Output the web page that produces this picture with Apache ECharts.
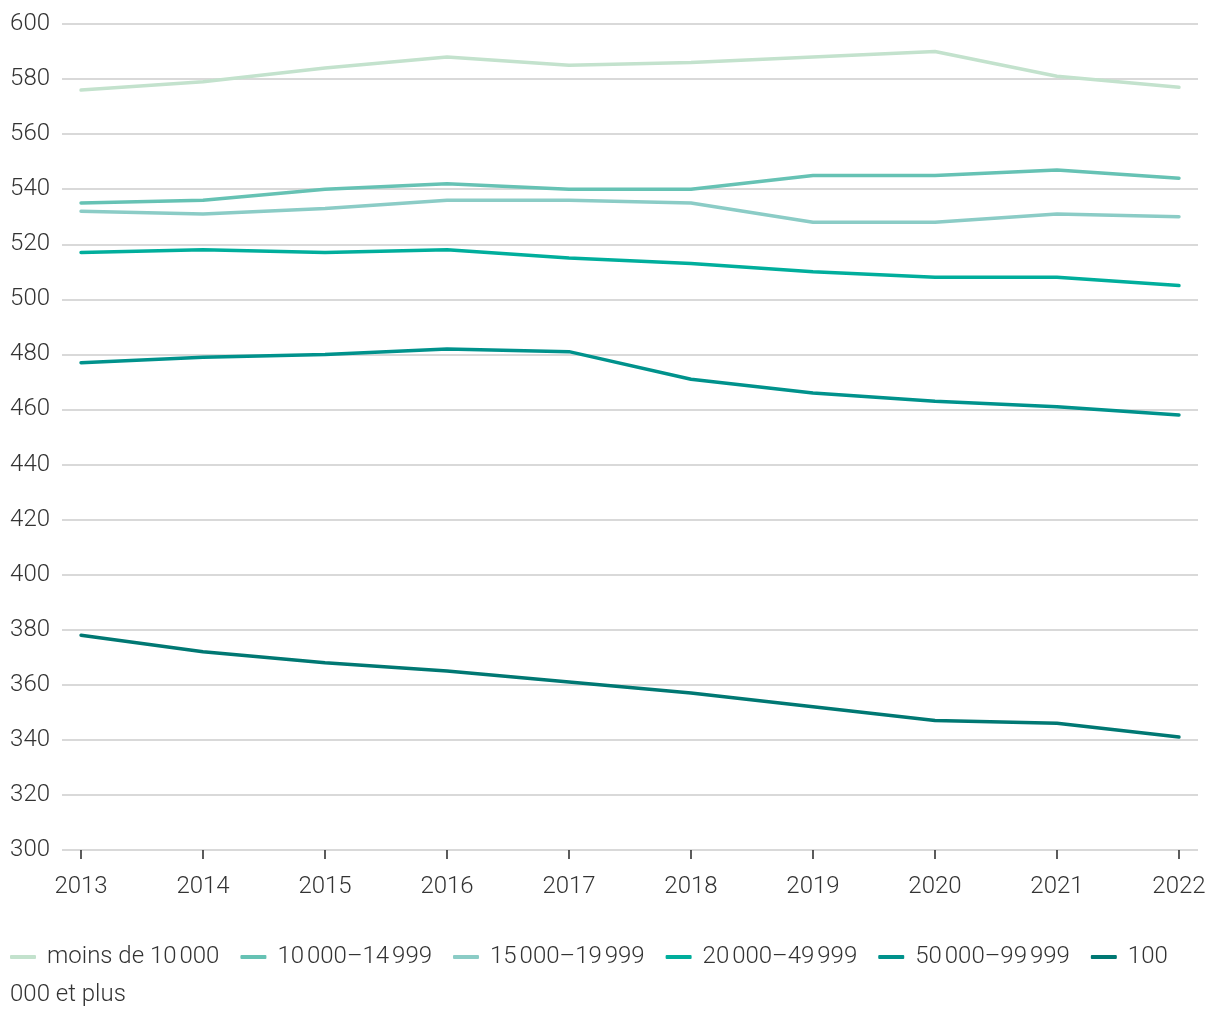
<!DOCTYPE html>
<html>
<head>
<meta charset="utf-8">
<script src="https://cdn.jsdelivr.net/npm/echarts@6/dist/echarts.min.js"></script>
<style>html,body{margin:0;padding:0;background:#fff}#c{width:1220px;height:1020px}</style>
</head>
<body>
<div id="c"></div>
<script>
const years = [2013, 2014, 2015, 2016, 2017, 2018, 2019, 2020, 2021, 2022];
const seriesNames = [
  'moins de 10\u202f000',
  '10\u202f000\u201314\u202f999',
  '15\u202f000\u201319\u202f999',
  '20\u202f000\u201349\u202f999',
  '50\u202f000\u201399\u202f999',
  '100\u202f000 et plus'
];
const moins10000 = [576, 579, 584, 588, 585, 586, 588, 590, 581, 577];
const s10000_14999 = [535, 536, 540, 542, 540, 540, 545, 545, 547, 544];
const s15000_19999 = [532, 531, 533, 536, 536, 535, 528, 528, 531, 530];
const s20000_49999 = [517, 518, 517, 518, 515, 513, 510, 508, 508, 505];
const s50000_99999 = [477, 479, 480, 482, 481, 471, 466, 463, 461, 458];
const s100000plus = [378, 372, 368, 365, 361, 357, 352, 347, 346, 341];
const yTicks = [300, 320, 340, 360, 380, 400, 420, 440, 460, 480, 500, 520, 540, 560, 580, 600];

const values = [moins10000, s10000_14999, s15000_19999, s20000_49999, s50000_99999, s100000plus];
const colors = ['#c3e2cd', '#66c2b4', '#8bccc6', '#00ae9c', '#00928c', '#007873'];
const font = 'Roboto';
const fs = 24;

const chart = echarts.init(document.getElementById('c'));
chart.setOption({
  animation: false,
  color: colors,
  grid: { left: 62, right: 22, top: 24, bottom: 170, containLabel: false },
  xAxis: {
    type: 'value',
    min: years[0] - 0.156,
    max: years[years.length - 1] + 0.156,
    axisLine: { show: false },
    splitLine: { show: false },
    axisTick: { show: true, length: 9, lineStyle: { color: '#333', width: 1.6 }, customValues: years },
    axisLabel: { customValues: years, color: '#333', fontSize: fs, fontFamily: font, fontWeight: 300, margin: 25, formatter: v => String(v) }
  },
  yAxis: {
    type: 'value',
    min: yTicks[0],
    max: yTicks[yTicks.length - 1],
    interval: 20,
    axisLine: { show: false },
    axisTick: { show: false },
    splitLine: { lineStyle: { color: '#cccccc', width: 1.6 } },
    axisLabel: { color: '#333', fontSize: fs, fontFamily: font, fontWeight: 300, margin: 12 }
  },
  legend: {
    left: 10,
    top: 945,
    padding: 0,
    itemWidth: 26,
    itemHeight: 4,
    itemGap: 21,
    icon: 'roundRect',
    textStyle: { color: '#333', fontSize: fs, fontFamily: font, fontWeight: 300, padding: [0, 0, 0, 6] },
    formatter: n => n === seriesNames[5] ? '100' : n,
    data: seriesNames
  },
  graphic: [{
    type: 'text', left: 10, top: 983,
    style: { text: '000 et plus', fill: '#333', fontSize: fs, fontFamily: font, fontWeight: 300 }
  }],
  series: seriesNames.map((name, i) => ({
    name,
    type: 'line',
    symbol: 'none',
    lineStyle: { width: 3.5, cap: 'round' },
    data: years.map((y, j) => [y, values[i][j]])
  }))
});
</script>
</body>
</html>
